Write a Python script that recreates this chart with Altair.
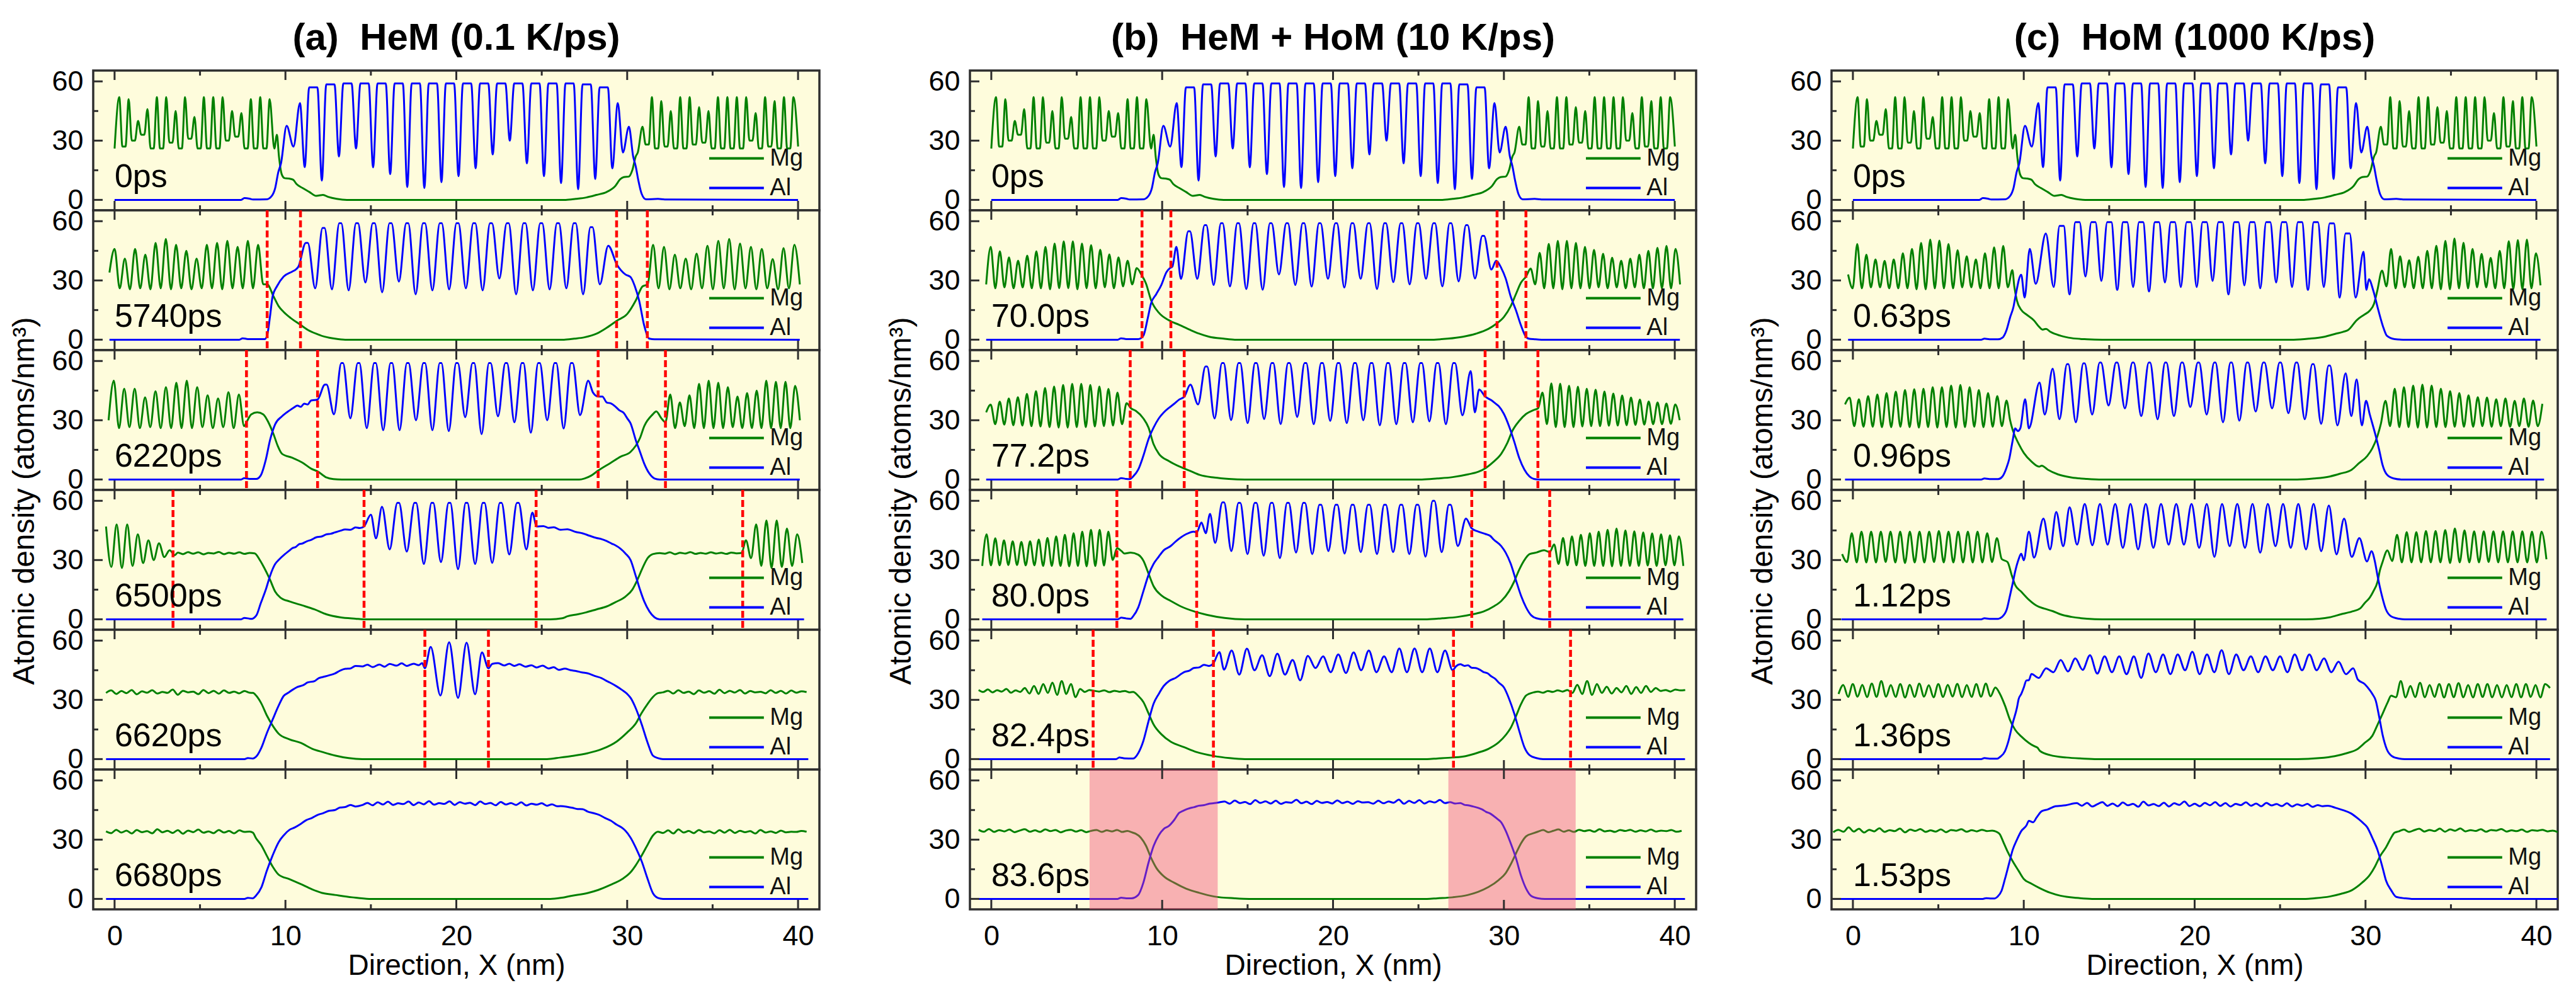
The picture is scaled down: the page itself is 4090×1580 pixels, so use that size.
import altair as alt
import pandas as pd

# ---------------- data ----------------
# segment formats:  ("P", [x0, y0, x1, y1, ...])  explicit points
#                   ("O", x_start, half_step, [values...], flat_width)  values at regular x steps
P0_MG = [("O", 0.0, 0.275, [26, 52, 27, 51, 30, 40, 33, 46, 26, 52, 26, 52, 29, 45, 26, 52, 31, 42, 26, 52, 26, 52, 26, 52, 30, 45, 32, 44, 26, 51, 26, 52, 26, 51, 26], -0.09),
         ("P", [9.5, 33, 9.62, 22, 9.78, 13, 9.95, 11, 10.2, 10.8, 10.45, 10.2, 10.65, 8, 11.0, 6, 11.4, 4, 11.8, 2, 12.2, 2.5, 12.5, 1.5, 13.0, 0.5, 13.6, 0, 26.4, 0, 27.0, 0.5, 27.6, 1.2, 28.2, 2.5, 28.8, 4, 29.3, 7, 29.6, 10.5, 29.8, 11.5, 30.1, 11.8, 30.3, 15, 30.5, 22]),
         ("O", 30.62, 0.276, [24, 37, 28, 52, 26, 50, 27, 45, 26, 52, 26, 52, 28, 47, 29, 45, 26, 52, 26, 52, 26, 52, 26, 52, 30, 44, 26, 52, 27, 50, 26, 52, 26, 52, 27], -0.09)]
P0_AL = [("P", [0.0, 0, 7.4, 0, 7.6, 0.9, 7.9, 0.6, 8.1, 0.2, 8.9, 0.3, 9.2, 2, 9.4, 6, 9.58, 14, 9.74, 18.5, 10.07, 37.5, 10.47, 27, 10.85, 49]),
         ("O", 11.13, 0.5, [16.6, 57, 9.8, 58.5, 22, 59, 26, 59, 16.5, 59, 13, 59, 6.5, 59, 6, 59, 9, 59, 12, 59, 16, 59, 23, 59, 30, 59, 18.5, 59, 12, 59, 8.5, 59, 5.4, 58.5, 10.6, 57, 16], 0.24),
         ("P", [29.45, 49, 29.75, 24, 30.1, 37, 30.35, 22, 30.5, 17, 30.65, 10, 30.85, 3, 31.1, 0.3, 31.8, 0.5, 32.2, 0.2, 40.0, 0])]

A2_MG = [("O", -0.3, 0.3, [34, 46, 26, 41, 25.5, 46, 26, 43, 25.5, 49, 26, 51, 25.5, 48, 26, 45, 25.5, 41, 26, 48, 26, 49, 25.5, 50, 26, 47, 26, 50, 26, 48, 28], 0),
         ("P", [8.93, 28, 9.3, 22, 9.6, 17, 9.9, 14, 10.3, 11, 10.8, 8, 11.3, 5, 11.8, 3, 12.3, 1.5, 12.9, 0.5, 13.5, 0, 26.3, 0, 26.9, 0.5, 27.5, 1.2, 28.2, 3, 28.8, 6, 29.4, 9.6, 30.0, 13, 30.5, 19.8, 30.9, 27]),
         ("O", 31.2, 0.318, [28, 48, 26, 47, 25.5, 43, 26, 41, 25.5, 43.6, 26, 47.6, 25.5, 50, 26, 51, 25.5, 48.7, 26, 47, 25.5, 46, 26, 40.8, 25.5, 46.4, 26, 48, 28], 0)]
A2_AL = [("P", [-0.3, 0, 7.3, 0, 7.5, 0.7, 7.8, 0.3, 8.8, 0.3, 8.95, 3, 9.1, 12, 9.25, 22, 9.5, 27, 9.9, 32, 10.4, 34.5, 10.6, 35.5]),
         ("O", 10.76, 0.49, [37, 49, 26, 56.6, 25.5, 59, 25, 59, 29, 59, 24, 59, 29.4, 59, 23, 59, 25, 59, 25.5, 59, 26, 59, 25, 59, 31, 59, 23, 59, 25, 59, 25.5, 59, 26, 59, 23, 57, 28, 47.6], 0.06),
         ("P", [29.4, 38, 29.9, 33, 30.2, 31.7, 30.45, 27, 30.7, 19.8, 31.0, 7, 31.3, 0.5, 31.6, 0.2, 40.1, 0])]

A3_MG = [("O", -0.35, 0.305, [30, 50, 26, 46, 26.5, 46, 26, 41.6, 26.5, 44.7, 26, 46.8, 26, 49, 26, 50, 26, 46.8, 26.5, 42.6, 26, 41, 26.5, 44.2, 26, 43, 27], 0),
         ("P", [7.72, 29, 8.0, 33, 8.35, 34, 8.7, 33, 9.0, 29, 9.3, 23, 9.55, 17, 9.8, 13, 10.4, 11, 11.0, 8.5, 11.5, 5.5, 11.9, 4, 12.4, 1, 12.8, 0.2, 13.3, 0, 27.2, 0, 27.5, 0.5, 27.9, 2, 28.3, 4.5, 29.05, 8.5, 29.6, 11.5, 30.2, 14, 30.75, 21, 31.0, 27, 31.5, 33, 31.7, 34.5, 32.0, 31]),
         ("O", 32.24, 0.281, [29, 43, 26, 39, 27, 42.6, 26, 48.4, 26, 50, 26, 49, 26, 46.8, 26.5, 42, 26, 43.7, 26, 45, 26, 50, 26, 49.5, 26, 49.5, 26, 47.4, 30], 0)]
A3_AL = [("P", [-0.35, 0, 7.4, 0, 7.6, 0.7, 7.9, 0.3, 8.3, 0.3, 8.55, 2, 8.85, 10, 9.1, 20, 9.4, 28, 9.8, 32, 10.25, 35, 10.5, 36.5, 10.7, 37.4, 10.9, 36.8, 11.1, 38.4, 11.3, 38, 11.5, 40, 11.7, 40.2]),
         ("O", 11.88, 0.48, [40.5, 48, 33, 59, 31, 59, 26, 59, 25, 59, 25, 59, 30, 59, 25, 59, 24.5, 59, 31.5, 59, 23, 59, 32, 59, 29, 59, 23.7, 59, 30, 59, 25.8, 59, 32.6, 50], 0.05),
         ("P", [28.0, 44, 28.3, 42, 28.55, 42, 28.8, 39, 29.05, 38.5, 29.3, 37, 29.55, 35, 29.8, 33.7, 30.0, 31, 30.2, 28.4, 30.5, 20, 30.75, 14, 31.0, 8, 31.3, 3, 31.6, 0.5, 31.9, 0, 40.1, 0])]

A4_MG = [("O", -0.5, 0.31, [47, 26.5, 48, 26, 48, 27, 43, 28.5, 40, 30, 38.5, 31.5, 35, 32.5], 0),
         ("O", 3.7, 0.3, [33.8, 33, 34, 33.2, 33.9, 32.9, 33.6, 33.3, 34.1, 33, 33.7, 33.2, 33.9, 33.1, 33.6, 33.4], 0),
         ("P", [8.5, 30, 8.7, 27, 9.1, 20, 9.4, 14, 9.7, 11, 10.25, 9, 11.0, 7, 11.7, 5, 12.4, 2.5, 13.2, 1, 14.1, 0.3, 14.6, 0, 25.5, 0, 26.2, 0.5, 26.5, 1.5, 27.1, 2.5, 27.6, 3.5, 28.2, 5, 28.8, 6.5, 29.3, 8.6, 29.9, 11.5, 30.3, 15, 30.6, 20, 30.9, 26, 31.2, 31, 31.5, 33, 31.9, 33.5]),
         ("O", 32.2, 0.3, [33.2, 33.9, 33, 33.7, 33.3, 34, 33.1, 33.6, 33.2, 33.9, 33.3, 33.7, 33.1, 33.8, 33.4, 33.6], 0),
         ("O", 36.95, 0.3, [40, 31, 48, 27, 50, 26, 50, 26.5, 46, 27, 43, 28.5], 0)]
A4_AL = [("P", [-0.5, 0, 7.4, 0, 7.6, 0.7, 7.9, 0.3, 8.0, 0.2, 8.3, 2, 8.55, 8, 8.85, 15, 9.1, 22, 9.4, 28, 9.6, 30, 9.97, 33, 10.2, 34.6, 10.4, 36, 10.6, 36.6, 10.8, 38, 11.0, 38.4, 11.25, 39.5, 11.5, 40.2, 11.8, 41.5, 12.1, 41.9, 12.4, 43, 12.65, 43.3, 12.9, 44, 13.2, 44.8, 13.5, 45.5, 13.8, 45.3, 14.1, 46.5, 14.35, 46.2, 14.6, 47, 15.0, 53, 15.3, 41, 15.65, 57]),
         ("O", 16.1, 0.5, [35.4, 59, 34.3, 59, 28, 59, 29, 59, 25.4, 59, 28, 59, 28.6, 59, 32.8, 59, 35.4], 0.05),
         ("P", [24.45, 54, 24.7, 47, 25.1, 47.2, 25.4, 46.3, 25.7, 46.6, 26.1, 45.3, 26.5, 45.6, 27.0, 44.2, 27.4, 43.5, 27.8, 42.3, 28.2, 41.2, 28.5, 40.6, 28.8, 39.6, 29.1, 38.3, 29.3, 37.5, 29.6, 35.8, 29.9, 33.3, 30.2, 30, 30.5, 22, 30.75, 15, 31.0, 9, 31.3, 4, 31.6, 1, 31.9, 0, 40.35, 0])]

A5_MG = [("O", -0.5, 0.3, [33.5, 34.8, 33, 34.5, 33.4, 35, 32.8, 34.3, 33.6, 34.9, 33.2, 34, 33.5, 35.2, 32.6, 34.6, 33.8, 34.2, 32.9, 35, 33.4, 34.6, 33.1, 34.8, 33.5, 34.2, 33.3, 34.5, 33.6], 0),
         ("P", [8.1, 33.5, 8.3, 32, 8.6, 28, 8.9, 22.3, 9.25, 17, 9.6, 12.9, 10.24, 10, 10.9, 8.2, 11.55, 5.3, 12.2, 3.5, 12.9, 1.8, 13.7, 0.5, 14.5, 0, 25.3, 0, 26.1, 0.8, 26.7, 1.5, 27.7, 3, 28.5, 5, 29.4, 9, 30.0, 13.5, 30.5, 18, 30.85, 23.4, 31.2, 28, 31.5, 31.4, 31.8, 33.4]),
         ("O", 32.1, 0.3, [33.8, 34.6, 33.2, 34.9, 33.5, 34.2, 32.9, 34.8, 33.6, 34.4, 33.1, 35.1, 33.4, 34.6, 33.7, 35, 33.2, 34.5, 33.8, 34.1, 33.3, 34.9, 33.5, 34.6, 33.2, 34.7, 33.6, 34.3, 33.9], 0)]
A5_AL = [("P", [-0.5, 0, 7.6, 0, 7.8, 0.5, 8.1, 0.3, 8.26, 1, 8.6, 5.9, 8.9, 12.9, 9.25, 20, 9.6, 27, 9.9, 32, 10.15, 33.5, 10.4, 35, 10.7, 36.5, 11.05, 37.5, 11.3, 38.8, 11.7, 39.5, 11.95, 41, 12.2, 41.6, 12.55, 42.4, 12.9, 43.4, 13.2, 44.8, 13.5, 45.7, 13.8, 45.9, 14.1, 47.2, 14.5, 46.9, 14.8, 47.8, 15.1, 46.6, 15.5, 47.9, 15.8, 46.8, 16.1, 48.2, 16.5, 47.3, 16.8, 48.5, 17.1, 47.2, 17.5, 48.3, 17.8, 47.6, 18.0, 48.6, 18.16, 46, 18.5, 56.8, 19.07, 32.2, 19.58, 59.2, 20.1, 31, 20.6, 59, 21.1, 32.8, 21.5, 54, 21.88, 46, 22.1, 48.2, 22.45, 48.6, 22.8, 47.4, 23.1, 48.3, 23.4, 47.2, 23.7, 48, 24.05, 46.8, 24.4, 47.5, 24.7, 46.4, 25.05, 47.3, 25.4, 45.9, 25.7, 46.5, 26.0, 45.2, 26.35, 45.8, 26.7, 45, 27.0, 44.6, 27.35, 43.9, 27.7, 43.4, 28.1, 42.1, 28.5, 41, 28.75, 39.8, 29.0, 38.7, 29.35, 37, 29.7, 35, 30.0, 33, 30.2, 31, 30.5, 25.8, 30.85, 17.6, 31.2, 8.2, 31.5, 1.8, 31.8, 0.5, 32.1, 0, 40.6, 0])]

A6_MG = [("O", -0.5, 0.3, [34.2, 33.3, 35, 33.6, 34.6, 33.1, 34.9, 33.8, 34.3, 33.2, 35.3, 33.7, 34.5, 33.4, 34.8, 33, 34.6, 33.8, 35.1, 33.5, 34.2, 33.3, 34.9, 33.6, 34.4, 33.2, 34.7, 33.9, 34.1], 0),
         ("P", [8.1, 33.5, 8.26, 31, 8.6, 27, 8.9, 22, 9.25, 16.4, 9.6, 12.3, 10.24, 10, 10.9, 7.5, 11.55, 4.9, 12.2, 2.9, 12.9, 2, 13.9, 0.8, 14.9, 0, 25.5, 0, 26.1, 0.5, 26.7, 1.5, 27.7, 3, 28.3, 4.5, 29.0, 7, 29.7, 10, 30.2, 13.5, 30.5, 17, 30.85, 22, 31.2, 27.5, 31.5, 32, 31.8, 34]),
         ("O", 32.1, 0.3, [33.4, 34.7, 33.1, 35.2, 33.6, 34.4, 33.3, 34.9, 33.7, 34.2, 33.2, 34.8, 33.5, 35, 33.4, 34.5, 33.8, 34.3, 33.1, 34.9, 33.6, 34.2, 33.4, 34.6, 33.7, 34, 33.9, 34.4, 34], 0)]
A6_AL = [("P", [-0.5, 0, 7.6, 0, 7.8, 0.5, 8.1, 0.3, 8.26, 1.5, 8.6, 6, 8.9, 14, 9.25, 22, 9.6, 28.7, 9.9, 32.2, 10.24, 35, 10.55, 36.2, 10.9, 38, 11.2, 39.8, 11.55, 41, 11.9, 42.6, 12.2, 43.4, 12.55, 44.6, 12.9, 45, 13.2, 46.3, 13.5, 46.5, 13.8, 47.6, 14.1, 46.8, 14.5, 47.5]),
         ("O", 14.8, 0.3, [48.6, 47.4, 48.9, 47.8, 49.2, 47.6, 48.4, 48, 49.3, 47.5, 48.8, 47.9, 49.5, 47.7, 48.5, 48.1, 49.4, 47.6, 49, 48.2, 48.7, 47.5, 49.3, 48, 48.6, 47.4, 49.1, 47.8, 48.5, 47.6, 48.9, 47.3, 48.2, 47.7, 48.4, 47.2, 47.9, 46.9], 0),
         ("P", [26.1, 47, 26.5, 46.6, 26.8, 46.1, 27.1, 45.5, 27.4, 45.4, 27.7, 44.2, 28.0, 43.5, 28.35, 42.6, 28.7, 41, 29.05, 39.6, 29.4, 37.5, 29.65, 36.3, 29.9, 34.5, 30.2, 31, 30.5, 26, 30.85, 19, 31.2, 10, 31.5, 3, 31.8, 0.5, 32.1, 0, 40.6, 0])]

B2_MG = [("O", -0.3, 0.267, [28, 47, 26, 44.8, 26.5, 41.7, 26, 40, 26.5, 42.5, 26, 44.8, 26, 47, 25.5, 48.7, 26, 49.8, 26, 49.8, 25.5, 48.7, 26, 47.9, 26, 45.6, 26.5, 43.2, 26, 41.7, 27, 40, 28, 36.2, 33], 0),
         ("P", [9.05, 28.5, 9.35, 20, 9.8, 13.7, 10.4, 9.8, 11.0, 7.5, 11.6, 5.1, 12.15, 3.1, 12.75, 1.5, 13.6, 0.5, 14.25, 0, 25.8, 0, 26.7, 0.5, 27.6, 1.5, 28.35, 3, 29.1, 5.5, 29.55, 8, 30.0, 11.5, 30.4, 17, 30.7, 23, 31.0, 28.9]),
         ("O", 31.3, 0.265, [32, 36, 28, 44, 26, 48.5, 26, 50, 25.5, 50, 26, 49, 26, 47, 26, 45.5, 26.5, 43.5, 26, 41.5, 26.5, 40, 26, 41, 26.5, 43, 26, 45, 26, 46.5, 26, 47.5, 26, 46, 28], 0)]
B2_AL = [("P", [-0.3, 0, 7.4, 0, 7.6, 0.7, 7.9, 0.3, 8.6, 0.3, 8.9, 2, 9.15, 10.6, 9.35, 18.4, 9.65, 23, 9.95, 27.7, 10.25, 34.2, 10.45, 36.2, 10.6, 37, 10.83, 47]),
         ("O", 11.1, 0.478, [30.8, 54.9, 30.8, 58, 27.7, 59, 27, 59, 25.7, 59, 25.3, 59, 33, 59, 27.7, 59, 26.9, 59, 30.8, 59, 26.4, 59, 30.8, 59, 25.7, 59, 29.2, 59, 28, 59, 30.8, 59, 27, 59, 29.5, 58, 31, 52.6, 35.5], 0.05),
         ("P", [29.55, 40, 29.85, 36.2, 30.1, 31.1, 30.4, 21.8, 30.7, 15, 31.0, 7.2, 31.25, 2, 31.45, 0.5, 31.8, 0.2, 32.2, 0, 40.3, 0])]

B3_MG = [("O", -0.3, 0.265, [34, 37.9, 28, 39.4, 27.8, 41, 27.5, 41.7, 27.3, 43.3, 27, 44.8, 26.8, 46.4, 26.5, 47.1, 26.3, 47.9, 26.3, 48.4, 26.5, 48.4, 26.5, 47.9, 26.8, 47.1, 27, 45.9, 27.3, 44, 28, 38.6, 36], 0),
         ("P", [8.45, 34.8, 8.9, 30.9, 9.2, 26.3, 9.5, 17.8, 9.8, 13.1, 10.4, 9.3, 11.0, 6.6, 11.6, 4.5, 12.2, 2.3, 13.05, 1, 13.9, 0.3, 14.85, 0, 25.2, 0, 26.1, 0.5, 27.0, 1.2, 27.9, 2.6, 28.5, 3.9, 28.95, 5.9, 29.4, 9, 29.85, 13.1, 30.2, 18.5, 30.5, 24.7, 30.9, 29.7, 31.3, 33.2, 31.75, 35.2]),
         ("O", 32.0, 0.259, [36, 44, 28, 48.7, 26.5, 48.5, 26.5, 47.5, 26.5, 47, 26.8, 46, 27, 45.5, 27, 44.5, 27.2, 43.5, 27.3, 42.5, 27.5, 41.5, 27.6, 40.5, 27.8, 39.5, 28, 39, 28, 38.5, 28.2, 38, 30], 0)]
B3_AL = [("P", [-0.3, 0, 7.4, 0, 7.6, 0.7, 7.9, 0.3, 8.1, 0.2, 8.3, 1.5, 8.6, 5, 8.9, 12, 9.2, 20.4, 9.5, 26.3, 9.8, 30.9, 10.1, 34, 10.4, 36.3, 10.7, 38.3, 11.0, 40.5, 11.3, 42, 11.65, 48]),
         ("O", 12.1, 0.4835, [38, 57.2, 30.9, 59, 30.1, 59, 28.6, 59, 30.6, 59, 28.1, 59, 31.7, 59, 28, 59, 29.7, 59, 28.6, 59, 30, 59, 27.5, 59, 28, 59, 29, 59, 29.4, 59, 28, 59, 32.5, 54.9], 0.05),
         ("P", [28.3, 34, 28.55, 45.6, 28.9, 42, 29.25, 40.2, 29.5, 38.5, 29.7, 37.1, 30.0, 33.2, 30.3, 27, 30.6, 19.3, 30.9, 10.8, 31.2, 5, 31.5, 1.5, 31.75, 0.3, 32.1, 0, 40.3, 0])]

B4_MG = [("O", -0.53, 0.2545, [27, 43, 27.3, 41, 27.3, 40, 27.5, 39.5, 27.5, 39.2, 27.3, 39.5, 27.3, 40.4, 27, 41.2, 27, 42, 27, 42.8, 26.8, 43.6, 27, 44.4, 26.8, 45.3, 27, 45.3, 27.2, 44.4, 30, 36, 34.6], 0),
         ("P", [7.8, 33.3, 8.15, 33.8, 8.6, 32.7, 8.9, 29.7, 9.2, 23.2, 9.5, 16.7, 9.95, 12.1, 10.5, 9.3, 11.1, 6.5, 11.9, 3.9, 12.6, 2.3, 13.65, 0.7, 14.85, 0, 25.5, 0, 26.4, 0.5, 27.3, 1.2, 28.2, 2.6, 28.8, 3.9, 29.4, 6.5, 29.85, 9.3, 30.3, 14.2, 30.6, 19.1, 30.9, 25.2, 31.2, 30, 31.5, 33, 31.9, 33.8, 32.35, 35]),
         ("O", 32.68, 0.2607, [34, 37.9, 28, 41.2, 27.3, 42, 27.3, 42.8, 27, 43.6, 27, 44.4, 27, 45.3, 26.8, 46, 27, 45, 27, 44.5, 27, 44, 27.2, 43.5, 27, 43, 27.3, 42.5, 27.3, 42, 27], 0)]
B4_AL = [("P", [-0.53, 0, 7.4, 0, 7.6, 0.8, 7.9, 0.4, 8.15, 0.2, 8.3, 1.5, 8.6, 6, 8.9, 14.2, 9.2, 22.4, 9.5, 28.1, 9.8, 31.7, 10.1, 35, 10.5, 37.1, 10.8, 39.5, 11.1, 41.5, 11.4, 43.1, 11.85, 44.4, 12.02, 44, 12.3, 49, 12.55, 43.6, 12.8, 53.4]),
         ("O", 13.1, 0.4735, [38.7, 59.2, 34.6, 59, 33, 59, 32.2, 59, 31, 59, 33.8, 59, 33, 58, 34.6, 58, 33.3, 58, 34, 58, 33, 58, 34, 58, 33, 58, 31.7, 60, 34, 58, 37.1, 51], 0.05),
         ("P", [28.12, 46, 28.5, 44.4, 28.95, 43.1, 29.2, 42.2, 29.4, 40.4, 29.85, 37, 30.1, 33.8, 30.4, 28.1, 30.7, 19.9, 31.0, 12, 31.3, 6, 31.6, 2, 31.9, 0.5, 32.3, 0, 40.5, 0])]

B5_MG = [("O", -0.74, 0.27, [35, 34, 35.3, 33.8, 34.9, 34.2, 35.5, 33.6, 34.8, 34, 36, 33.2, 37, 33, 38, 33.5, 38.7, 32.5, 39.5, 33, 38, 31.4, 35.5, 34, 35, 34.6], 0),
         ("O", 6.31, 0.3, [34.2, 34.8, 33.9, 34.6, 34.1, 34.5, 33.8], 0),
         ("P", [8.3, 34, 8.6, 32, 8.9, 28.9, 9.2, 23.2, 9.5, 17.5, 9.95, 12.6, 10.5, 8.8, 11.3, 6, 12.0, 3.6, 13.0, 1.6, 13.95, 0.5, 14.85, 0, 25.5, 0, 26.1, 0.3, 27.0, 0.8, 27.75, 1.5, 28.5, 3.3, 29.1, 5.2, 29.7, 8.5, 30.1, 12.1, 30.4, 15.8, 30.7, 21.6, 31.0, 27.8, 31.3, 32.2, 31.75, 33.8]),
         ("O", 32.0, 0.287, [34.2, 33.6, 34.5, 34, 34.8, 34.2, 35, 33.5, 37.6, 33, 39.5, 32.5, 38, 33.5, 36.6, 33.2, 36, 33.8, 37, 33, 36.5, 33.5, 37, 34, 36, 34.5, 35, 34.2, 35.2, 34.8, 35], 0)]
B5_AL = [("P", [-0.74, 0, 7.3, 0, 7.5, 0.8, 7.8, 0.4, 8.3, 0.3, 8.6, 3, 8.9, 9.2, 9.2, 19.1, 9.5, 28.1, 9.8, 33, 10.1, 37.1, 10.4, 39.5, 10.8, 41.2, 11.3, 44.1, 11.6, 44.8, 11.85, 46.1, 12.15, 46.4, 12.45, 47.7, 12.75, 47.2, 13.0, 48.5, 13.35, 54.2]),
         ("O", 13.62, 0.446, [45.3, 55, 42.8, 55.9, 45, 52.6, 42, 53.4, 42.8, 50.2, 39.9, 52.3, 46.1, 52, 44, 53, 43.6, 54, 45, 55, 44, 52, 44, 56, 44, 56, 44, 56, 44, 55, 45], 0),
         ("P", [27.2, 47, 27.45, 48, 27.7, 47.2, 27.9, 47.5, 28.1, 46.3, 28.35, 46.1, 28.6, 45.2, 28.8, 44.1, 29.05, 43.4, 29.25, 42, 29.5, 40.6, 29.7, 38.7, 30.0, 36.3, 30.3, 30.6, 30.6, 23.2, 30.9, 14.2, 31.2, 6, 31.5, 2, 31.9, 0.5, 32.3, 0, 40.6, 0])]

B6_MG = [("O", -0.74, 0.3, [35, 34, 35.4, 33.9, 34.8, 34.2, 35.1, 33.8, 34.6, 35.3, 34, 34.7, 33.9, 35.2, 34.3, 34.9, 33.7, 34.6, 35, 34.1, 34.8, 33.8, 34.5, 34.9, 33.9, 34.7, 34.2, 34.9, 33.9, 34.4, 33.6], 0),
         ("P", [8.45, 33, 8.75, 31, 9.05, 27, 9.35, 20.8, 9.65, 15.8, 10.1, 11.4, 10.7, 8.2, 11.4, 5.2, 12.15, 3.1, 13.05, 1.2, 14.25, 0.3, 15.1, 0, 25.5, 0, 26.1, 0.3, 27.0, 0.8, 27.9, 2, 28.5, 3.6, 29.1, 6, 29.7, 9.6, 30.1, 13, 30.4, 17.5, 30.7, 22.9, 31.0, 28.1, 31.3, 31.7, 31.75, 33.3]),
         ("O", 32.0, 0.3, [34.1, 34.9, 33.8, 34.5, 35.2, 34, 34.7, 33.9, 35, 34.3, 34.8, 34, 35.3, 34.2, 34.6, 33.9, 34.9, 34.4, 35, 34, 34.7, 34.2, 35.1, 34.1, 34.6, 34.3, 34.9, 34, 34.5], 0)]
B6_AL = [("P", [-0.74, 0, 7.4, 0, 7.6, 0.6, 7.9, 0.3, 8.2, 0.3, 8.6, 2, 8.9, 8.2, 9.2, 18.3, 9.5, 26.8, 9.8, 32.2, 10.1, 35.5, 10.4, 37, 10.7, 39.9, 11.0, 43.6, 11.2, 44.5, 11.4, 45.3, 11.6, 45.9, 11.85, 46.4, 12.15, 47.2, 12.45, 47.5, 12.75, 48.2, 13.05, 48.5, 13.35, 48.9]),
         ("O", 13.65, 0.3, [49.3, 48.2, 49.8, 48.5, 49.1, 48, 50, 48.6, 49.4, 48.3, 49.7, 48.1, 49, 48.7, 50.2, 48.4, 49.2, 48, 49.6, 48.6, 49.1, 48.3, 49.9, 48.5, 49.2, 48.1, 49.5, 48.8, 49, 48.2, 49.7, 48.4, 49.3, 48.7, 50.3, 48.2, 49.6, 48.6, 50, 48.3, 49.4, 48.8, 50.1, 48.5, 49], 0),
         ("P", [27.15, 48.3, 27.45, 48.5, 27.7, 47.6, 27.9, 47.4, 28.2, 46.8, 28.5, 46.1, 28.75, 45.2, 28.95, 44.1, 29.2, 43.2, 29.4, 42, 29.65, 40.3, 29.85, 38.7, 30.1, 34.6, 30.4, 28.1, 30.7, 20.8, 31.0, 11.8, 31.3, 5.2, 31.6, 1.5, 32.0, 0.3, 32.4, 0, 40.6, 0])]

C2_MG = [("O", -0.28, 0.267, [33, 26, 48.4, 26, 43, 26.5, 40.6, 26.5, 39.9, 26, 40.6, 26, 43.7, 26, 46, 25.5, 49, 25.5, 50.7, 26, 50.2, 26, 48.4, 26, 45.3, 26.5, 42.2, 26.5, 40.6, 26, 43.7, 26, 46.8, 26, 47.5, 26.5, 35.2], 0),
         ("P", [9.45, 26.7, 9.6, 19.8, 9.85, 15.1, 10.15, 12.8, 10.6, 9.7, 10.85, 7, 11.1, 5.1, 11.3, 5.5, 11.55, 4, 12.15, 2, 12.8, 0.8, 13.7, 0.2, 14.6, 0, 25.8, 0, 26.7, 0.5, 27.6, 1.5, 28.25, 3, 28.7, 4, 29.0, 5, 29.5, 10, 29.95, 12.8, 30.25, 14.7, 30.5, 18.2]),
         ("O", 30.7, 0.265, [25.2, 35, 27, 46, 26, 42.2, 26.5, 40.2, 26, 42, 26, 45, 26, 47.6, 25.5, 50, 25.5, 51.2, 26, 49.1, 26, 46, 26.5, 43.4, 26.5, 41.4, 26, 45, 26, 49.9, 25.5, 50.4, 25.5, 50.7, 26, 43.7, 27.5], 0)]
C2_AL = [("P", [-0.28, 0, 7.5, 0, 7.7, 0.5, 8.0, 0.2, 8.5, 0.2, 8.75, 1, 9.0, 5.1, 9.2, 11.3, 9.4, 16.7, 9.5, 21.3, 9.85, 32.9, 10.05, 21.3, 10.35, 46, 10.7, 28.3, 11.29, 53.8]),
         ("O", 11.75, 0.465, [26.7, 57.6, 22.9, 59.5, 32, 59.5, 29.8, 59.5, 25.2, 59.5, 26.7, 59.5, 24.4, 59.5, 29, 59.5, 26.7, 59.5, 26.7, 59.5, 29.8, 59.5, 22.9, 59.5, 27.5, 59.5, 26, 59.5, 29, 59.5, 26.7, 59.5, 25.2, 59.5, 26.7, 58.9, 21.3, 53.8, 21.3, 44.5], 0.12),
         ("P", [30.05, 25.2, 30.2, 30.6, 30.45, 25, 30.75, 15, 31.05, 6, 31.25, 2, 31.7, 0.3, 32.2, 0, 40.24, 0])]

C3_MG = [("O", -0.46, 0.27, [38, 41.4, 27, 40.6, 26.7, 42.2, 26.7, 43, 26.5, 43.7, 26.5, 44.5, 26.7, 45.3, 26.5, 45.7, 26.3, 46, 26.5, 46.8, 26.3, 46.8, 26.5, 47.6, 26.3, 47.9, 26.5, 46.8, 26.7, 45.3, 26.5, 43.7, 26.7, 42.2, 27, 40], 0),
         ("P", [9.2, 30, 9.35, 25.1, 9.7, 18.1, 10.0, 13.5, 10.45, 9.1, 10.9, 6.5, 11.05, 7, 11.4, 5, 12.0, 2.6, 12.8, 1, 13.7, 0.3, 14.6, 0, 26.0, 0, 27.0, 0.5, 27.9, 1.5, 28.5, 2.9, 29.2, 5, 29.6, 8.1, 30.1, 11.9, 30.4, 15.8, 30.7, 22]),
         ("O", 30.9, 0.27, [28.2, 39.8, 27, 46, 26.5, 46.8, 26.5, 47.6, 26.3, 48, 26.3, 47.6, 26.5, 46, 26.5, 44.8, 26.7, 43.7, 26.7, 42.6, 26.7, 41.7, 27, 41.5, 26.7, 40.6, 27, 41, 26.7, 39.8, 27, 41, 26.7, 40, 27, 38.3], 0)]
C3_AL = [("P", [-0.46, 0, 7.5, 0, 7.7, 0.5, 8.0, 0.2, 8.5, 0.2, 8.75, 1.5, 9.0, 6.2, 9.15, 10.4, 9.35, 19.7, 9.5, 25.9, 9.65, 24.5, 9.8, 26, 10.08, 40.6, 10.3, 25.9, 10.92, 49.1, 11.23, 32.9, 11.69, 56.1]),
         ("O", 12.09, 0.4785, [30.5, 58.4, 29, 58.8, 32.9, 59.2, 37.5, 59.2, 36, 59.2, 32.1, 59.2, 30.5, 59.2, 32.1, 59.2, 36.7, 59.2, 32.9, 59.2, 29, 59.2, 29.8, 59.2, 34.4, 59.2, 36, 59.2, 33.6, 59.2, 30.5, 58.4, 28.2, 57.7, 27.4, 53.8], 0.04),
         ("P", [29.17, 32.1, 29.48, 50.7, 29.79, 27.4, 30.03, 39.8, 30.25, 32.9, 30.6, 22, 30.8, 15, 31.0, 7.3, 31.25, 2.5, 31.65, 0.5, 32.1, 0, 40.45, 0])]

C4_MG = [("O", -0.63, 0.283, [33, 29, 43.6, 28.8, 44.4, 28.8, 44.4, 28.8, 44.4, 29, 44.4, 28.8, 44.4, 28.5, 44.4, 28.8, 44.4, 28.8, 44.4, 29, 44.7, 28.8, 44.4, 28.8, 44.4, 28.8, 44.4, 28.8, 44.4, 28.8, 43.6, 29, 41.1, 30.5], 0),
         ("P", [9.05, 29, 9.3, 22.2, 9.5, 17.3, 9.85, 14, 10.3, 9.9, 10.75, 6.9, 11.2, 5.4, 11.7, 4.1, 12.15, 2.5, 12.8, 1.2, 13.7, 0.3, 14.6, 0, 26.5, 0, 27.3, 0.3, 27.9, 1, 28.55, 2.5, 29.2, 3.9, 29.7, 5.6, 29.95, 8.2, 30.25, 11, 30.45, 14, 30.7, 18.9, 30.85, 25]),
         ("O", 31.0, 0.282, [29.1, 34.9, 29.5, 42.8, 28.8, 44.1, 28.8, 44.1, 28.8, 44.7, 28.8, 44.7, 28.8, 45.2, 28.5, 46, 28.8, 45, 28.8, 44.5, 28.8, 44.5, 29, 44.5, 28.8, 44.5, 28.8, 44.5, 28.8, 44.5, 28.8, 44.4, 28.8, 44.4, 30.4], 0)]
C4_AL = [("P", [-0.68, 0, 7.5, 0, 7.7, 0.5, 8.0, 0.2, 8.5, 0.2, 8.7, 1, 9.0, 4.9, 9.2, 12.3, 9.35, 18.1, 9.5, 24.3, 9.7, 30.4, 9.85, 33.2, 10.0, 29.9, 10.3, 44.4, 10.6, 31.2, 11.15, 51, 11.54, 35.4, 11.9, 54.3, 12.31, 37, 12.68, 56.7]),
         ("O", 13.12, 0.4465, [37.8, 58.4, 37.5, 58.4, 37.8, 58.4, 36.2, 58.4, 35.4, 58.4, 36.2, 58.4, 37.8, 58.4, 37.8, 58.4, 36.2, 58.4, 31.6, 58.4, 37, 58.4, 36.2, 58.4, 33.7, 58.4, 37, 58.4, 36.2, 58.4, 35.4, 58.4, 34.5, 57.6, 32.9, 51, 31.6, 41.1, 29.3], 0),
         ("P", [30.35, 34.5, 30.56, 28.8, 30.7, 22.2, 30.95, 12.3, 31.2, 4.9, 31.5, 1.5, 31.95, 0.3, 32.3, 0, 40.6, 0])]

C5_MG = [("O", -0.84, 0.278, [33, 37.5, 31.5, 38, 31.6, 37.6, 31.4, 38.2, 31.5, 39.5, 31.6, 37.5, 31.5, 38, 31.2, 37.6, 31.5, 38.2, 31.6, 37.4, 31.3, 38, 31.5, 37.6, 31.7, 38.1, 31.4, 37.5, 31.5, 38, 31.6, 38.2, 31.8, 36.2, 32.9], 0),
         ("P", [8.9, 27.1, 9.2, 19.7, 9.5, 14.8, 9.85, 11.5, 10.3, 8.2, 10.6, 6.6, 10.8, 5.8, 10.95, 4.1, 11.55, 2, 12.5, 0.8, 13.4, 0.3, 14.3, 0, 26.0, 0, 27.3, 0.5, 28.2, 1.5, 28.9, 3, 29.5, 4.9, 29.95, 8.2, 30.4, 11.8, 30.7, 17.3, 31.0, 23, 31.3, 28.8]),
         ("O", 31.5, 0.2817, [32.1, 31.3, 39.5, 31.2, 37, 31.4, 38.6, 31.3, 37.5, 31.5, 38, 31.2, 38, 31.4, 38.5, 31.3, 37.5, 31.2, 38, 31.5, 38, 31.3, 37.5, 31.2, 37.5, 31.4, 38, 31.3, 38, 31.5, 37.5, 31.2, 38, 36], 0)]
C5_AL = [("P", [-0.84, 0, 7.5, 0, 7.7, 0.5, 8.0, 0.2, 8.45, 0.2, 8.6, 1, 8.9, 4, 9.1, 9, 9.35, 18.1, 9.6, 26, 9.7, 30.4, 9.85, 32.9, 10.0, 36.2, 10.15, 39.8, 10.3, 40]),
         ("O", 10.45, 0.428, [43.1, 41.1, 46, 44, 50.2, 44.4, 51, 45.2, 52.6, 43.3, 52, 44, 52, 43, 52, 41.1, 53.5, 44, 53, 43, 53, 45, 54.3, 43, 53, 44, 55.1, 43, 53, 45, 52, 44, 52, 45, 52, 44, 53, 45, 53, 45, 51, 44, 49.3, 43, 46], 0),
         ("P", [29.55, 40.3, 29.95, 38, 30.25, 34.9, 30.4, 33, 30.6, 29.6, 30.8, 21.4, 31.0, 12.3, 31.25, 4.9, 31.55, 1.5, 31.95, 0.3, 32.3, 0, 40.8, 0])]

C6_MG = [("O", -1.15, 0.3, [33.8, 35, 34, 36.2, 34.1, 35.5, 33.6, 35, 34.2, 35.8, 33.9, 34.8, 34.3, 35.6, 33.7, 35.1, 34.4, 35.4, 33.9, 34.7, 34.1, 35.2, 33.8, 34.9, 34.5, 35.3, 34, 34.8, 34.2, 35, 34.3, 34.6], 0),
         ("P", [8.4, 34, 8.6, 32.7, 8.8, 28.9, 9.05, 24, 9.35, 19.1, 9.7, 14.2, 10.0, 10.1, 10.45, 7.7, 10.9, 5.6, 11.55, 3.1, 12.15, 1.6, 13.1, 0.5, 14.0, 0, 26.5, 0, 27.0, 0.3, 27.9, 1.2, 28.55, 2.5, 29.2, 4.4, 29.8, 8.2, 30.25, 12.1, 30.55, 16.3, 30.85, 21.6, 31.2, 26.1, 31.5, 31, 31.7, 33.5]),
         ("O", 31.95, 0.3, [34.2, 35.1, 33.9, 34.8, 35.5, 34.1, 34.9, 34.3, 35.6, 34, 35.2, 34.5, 35.7, 34.2, 34.8, 34.4, 35.3, 34, 34.9, 34.6, 35.4, 34.1, 34.7, 34.3, 35.1, 33.9, 34.8, 34.5, 35, 34.2, 34.6, 33.8], 0)]
C6_AL = [("P", [-1.15, 0, 7.6, 0, 7.8, 0.4, 8.1, 0.2, 8.3, 0.2, 8.45, 1, 8.7, 4.1, 8.9, 10.1, 9.15, 18.3, 9.35, 24.8, 9.6, 30, 9.85, 34.3, 10.15, 37.1, 10.3, 39.5, 10.55, 38.8, 10.75, 41.2, 11.05, 44.4, 11.4, 45.3, 11.85, 46.9, 12.45, 47.4, 13.1, 48.5]),
         ("O", 13.4, 0.3, [47.2, 48.6, 46.8, 47.9, 49, 47.1, 48.3, 46.9, 48.8, 47.4, 48.1, 46.7, 49.2, 47.3, 48, 47, 48.7, 46.8, 48.4, 47.6, 49.3, 47, 48.2, 46.9, 48.6, 47.4, 49, 47.1, 48.5, 46.8, 48.1, 47.5, 48.9, 47.2, 48.3, 46.9, 48.6, 47.3, 48, 47, 48.4, 46.8, 47.9, 47.2, 48.1, 46.6, 47.5, 46.9, 47.2], 0),
         ("P", [28.25, 46.1, 28.7, 44.9, 29.15, 43.3, 29.6, 40.4, 29.85, 38.5, 30.1, 36.3, 30.4, 30.9, 30.7, 24.8, 31.0, 15.8, 31.2, 9.3, 31.5, 4.4, 31.8, 1, 32.3, 0.3, 32.7, 0, 41.3, 0])]

LABELS_A = ["0ps", "5740ps", "6220ps", "6500ps", "6620ps", "6680ps"]
LABELS_B = ["0ps", "70.0ps", "77.2ps", "80.0ps", "82.4ps", "83.6ps"]
LABELS_C = ["0ps", "0.63ps", "0.96ps", "1.12ps", "1.36ps", "1.53ps"]

DASH_A = [[], [8.93, 10.88, 29.38, 31.18], [7.72, 11.88, 28.3, 32.24], [3.42, 14.6, 24.67, 36.76], [18.16, 21.88], []]
DASH_B = [[], [8.82, 10.51, 29.6, 31.29], [8.13, 11.29, 28.9, 31.99], [7.35, 12.02, 28.12, 32.68], [5.96, 13.0, 27.05, 33.9], []]
DASH_C = [[], [], [], [], [], []]
SPAN_B6_START = [5.75, 26.75]
SPAN_B6_END = [13.25, 34.2]

TITLES = ["(a)\u00a0 HeM (0.1 K/ps)", "(b)\u00a0 HeM + HoM (10 K/ps)", "(c)\u00a0 HoM (1000 K/ps)"]
SPECIES = ["Mg", "Al"]
X_MAJOR = [0, 10, 20, 30, 40]
X_MINOR = [5, 15, 25, 35]
Y_MAJOR = [0, 30, 60]
Y_MINOR = [15, 45]

# ---------------- style / layout ----------------
FONT = "Liberation Sans"
GREEN = "#008000"
BLUE = "#0000FF"
RED = "#FF0000"
FRAME = "#2e2e2e"
BG = "#FEFCDC"
PINK = "#F04A78"
W, H = 1153, 222
XDOM = [-1.25, 41.25]
YDOM = [-5.3, 65.5]
PX_Y = H / (YDOM[1] - YDOM[0])      # pixels per y unit
PX_X = W / (XDOM[1] - XDOM[0])      # pixels per nm
TICK_MAJ, TICK_MIN = 15, 8          # tick lengths in pixels
LEG_X0, LEG_X1, LEG_TX = 34.8, 38.0, 38.35
LEG_Y = {"Mg": 21.0, "Al": 6.0}
LAB_X, LAB_Y = 0.0, 6.5
TITLE_GAP = 33                      # px between plot top and column-title baseline


def expand(segs):
    xs, ys = [], []
    for seg in segs:
        if seg[0] == "P":
            flat = seg[1]
            xs.extend(flat[0::2])
            ys.extend(flat[1::2])
        else:
            _, x0, h, vals, w = seg
            n = len(vals)
            for i, v in enumerate(vals):
                x = x0 + i * h
                inner = 0 < i < n - 1
                is_max = inner and v > vals[i - 1] and v > vals[i + 1]
                is_min = inner and v < vals[i - 1] and v < vals[i + 1]
                if (w > 0 and is_max) or (w < 0 and is_min):
                    d = abs(w)
                    xs += [x - d, x + d]
                    ys += [v, v]
                else:
                    xs.append(x)
                    ys.append(v)
    return xs, ys


def curve_df(segs, name):
    xs, ys = expand(segs)
    return pd.DataFrame({"x": [round(v, 4) for v in xs], "y": ys, "species": name, "k": list(range(len(xs)))})


color_scale = alt.Scale(domain=SPECIES, range=[GREEN, BLUE])

tick_rows = []
for vals, L in ((X_MAJOR, TICK_MAJ), (X_MINOR, TICK_MIN)):
    for v in vals:
        tick_rows.append({"x": v, "x2": v, "y": YDOM[0], "y2": YDOM[0] + L / PX_Y})
        tick_rows.append({"x": v, "x2": v, "y": YDOM[1] - L / PX_Y, "y2": YDOM[1]})
for vals, L in ((Y_MAJOR, TICK_MAJ), (Y_MINOR, TICK_MIN)):
    for v in vals:
        tick_rows.append({"x": XDOM[0], "x2": XDOM[0] + L / PX_X, "y": v, "y2": v})
TICK_DF = pd.DataFrame(tick_rows)

LEG_DF = pd.DataFrame([{"species": s, "x": LEG_X0, "x2": LEG_X1, "tx": LEG_TX, "y": LEG_Y[s]} for s in SPECIES])


def panel(mg, al, label, dashes, row, title, spans=None):
    last = row == 5
    if last:
        xaxis = alt.Axis(values=X_MAJOR, ticks=False, tickSize=0, domain=False, grid=False,
                         labelFont=FONT, labelFontSize=45, labelColor="#000", labelPadding=20,
                         labelFlush=False, title="Direction, X (nm)", titleFont=FONT, titleFontSize=46,
                         titleFontWeight="normal", titleColor="#000", titlePadding=2)
    else:
        xaxis = None
    yk = dict(values=Y_MAJOR, ticks=False, tickSize=0, domain=False, grid=False, labelFont=FONT,
              labelFontSize=45, labelColor="#000", labelPadding=16, labelFlush=False)
    if row == 2:
        yk.update(title="Atomic density (atoms/nm³)", titleFont=FONT, titleFontSize=48,
                  titleFontWeight="normal", titleColor="#000", titlePadding=18, titleY=H + 17)
    else:
        yk.update(title=None)
    yaxis = alt.Axis(**yk)
    xs = alt.Scale(domain=XDOM, nice=False, zero=False)
    ys = alt.Scale(domain=YDOM, nice=False, zero=False)

    def X(f):
        return alt.X(f, type="quantitative", scale=xs, axis=xaxis)

    def Y(f):
        return alt.Y(f, type="quantitative", scale=ys, axis=yaxis)

    layers = []
    for segs, name in ((mg, "Mg"), (al, "Al")):
        layers.append(alt.Chart(curve_df(segs, name)).mark_line(interpolate="monotone", strokeWidth=3, clip=True).encode(
            x=X("x"), y=Y("y"), color=alt.Color("species:N", scale=color_scale, legend=None), order="k:Q"))
    if spans:
        sdf = pd.DataFrame({"x": spans[0], "x2": spans[1]})
        layers.append(alt.Chart(sdf).mark_rect(color=PINK, opacity=0.42).encode(x=X("x"), x2="x2:Q"))
    if dashes:
        ddf = pd.DataFrame({"x": dashes})
        layers.append(alt.Chart(ddf).mark_rule(color=RED, strokeWidth=4.5, strokeDash=[11, 5]).encode(x=X("x")))
    layers.append(alt.Chart(TICK_DF).mark_rule(color=FRAME, strokeWidth=3).encode(
        x=X("x"), x2="x2:Q", y=Y("y"), y2="y2:Q"))
    layers.append(alt.Chart(LEG_DF).mark_rule(strokeWidth=4).encode(
        x=X("x"), x2="x2:Q", y=Y("y"), color=alt.Color("species:N", scale=color_scale, legend=None)))
    layers.append(alt.Chart(LEG_DF).mark_text(align="left", baseline="middle", font=FONT, fontSize=38, color="#111").encode(
        x=X("tx"), y=Y("y"), text="species:N"))
    layers.append(alt.Chart(pd.DataFrame({"x": [LAB_X], "y": [LAB_Y], "t": [label]})).mark_text(
        align="left", baseline="alphabetic", font=FONT, fontSize=52, color="#000").encode(
        x=X("x"), y=Y("y"), text="t:N"))
    if title:
        tdf = pd.DataFrame({"x": [(XDOM[0] + XDOM[1]) / 2], "y": [YDOM[1] + TITLE_GAP / PX_Y], "t": [title]})
        layers.append(alt.Chart(tdf).mark_text(align="center", baseline="alphabetic", font=FONT, fontSize=60,
                                               fontWeight="bold", color="#000").encode(
            x=X("x"), y=Y("y"), text="t:N"))
    return alt.layer(*layers).properties(width=W, height=H)


def column(curves, labels, dashes, title, span_row=None):
    charts = []
    for r in range(6):
        mg, al = curves[r]
        spans = span_row if (span_row is not None and r == 5) else None
        charts.append(panel(mg, al, labels[r], dashes[r], r, title if r == 0 else None, spans))
    return alt.vconcat(*charts, spacing=0, bounds="flush")


col_a = column([(P0_MG, P0_AL), (A2_MG, A2_AL), (A3_MG, A3_AL), (A4_MG, A4_AL), (A5_MG, A5_AL), (A6_MG, A6_AL)],
               LABELS_A, DASH_A, TITLES[0])
col_b = column([(P0_MG, P0_AL), (B2_MG, B2_AL), (B3_MG, B3_AL), (B4_MG, B4_AL), (B5_MG, B5_AL), (B6_MG, B6_AL)],
               LABELS_B, DASH_B, TITLES[1], span_row=(SPAN_B6_START, SPAN_B6_END))
col_c = column([(P0_MG, P0_AL), (C2_MG, C2_AL), (C3_MG, C3_AL), (C4_MG, C4_AL), (C5_MG, C5_AL), (C6_MG, C6_AL)],
               LABELS_C, DASH_C, TITLES[2])

chart = alt.hconcat(col_a, alt.hconcat(col_b, col_c, spacing=79), spacing=103).properties(
    padding={"left": 6, "top": 21, "right": 4, "bottom": 4}, background="white"
).configure_view(stroke=FRAME, strokeWidth=3.5, fill=BG)

chart.save("out.html", embed_options={"renderer": "svg", "actions": False})
